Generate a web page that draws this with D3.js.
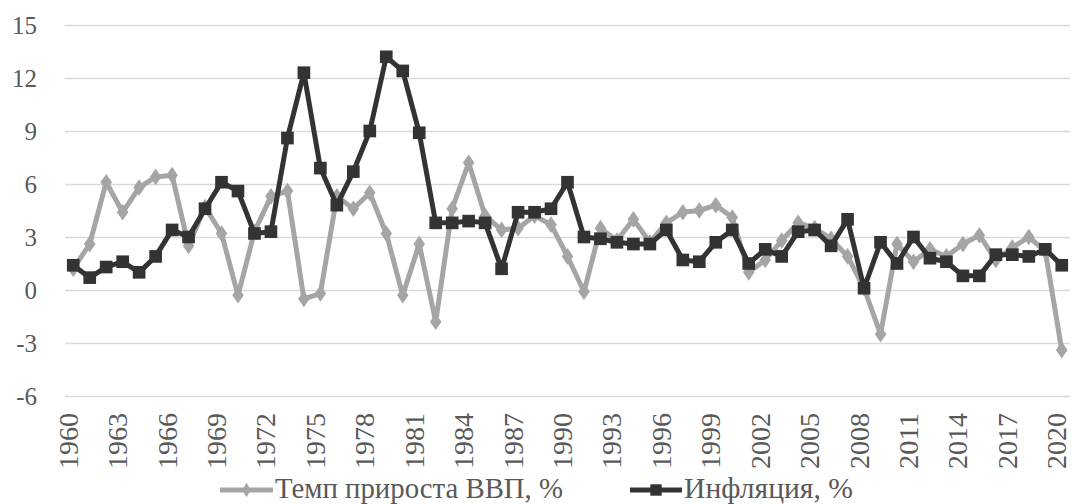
<!DOCTYPE html>
<html>
<head>
<meta charset="utf-8">
<script src="https://cdn.jsdelivr.net/npm/d3@7"></script>
</head>
<body style="margin:0">
<script>
var years = d3.range(1960, 2021);

// Темп прироста ВВП, %
var gdp = [1.2, 2.6, 6.1, 4.4, 5.8, 6.4, 6.5, 2.5, 4.7, 3.2,
           -0.3, 3.3, 5.3, 5.6, -0.5, -0.2, 5.3, 4.6, 5.5, 3.2,
           -0.3, 2.6, -1.8, 4.6, 7.2, 4.2, 3.4, 3.5, 4.2, 3.7,
           1.9, -0.1, 3.5, 2.8, 4.0, 2.7, 3.8, 4.4, 4.5, 4.8,
           4.1, 1.0, 1.7, 2.8, 3.8, 3.5, 2.9, 1.9, 0.1, -2.5,
           2.6, 1.6, 2.3, 1.9, 2.6, 3.1, 1.7, 2.4, 3.0, 2.2,
           -3.4];

// Инфляция, %
var infl = [1.4, 0.7, 1.3, 1.6, 1.0, 1.9, 3.4, 3.0, 4.6, 6.1,
            5.6, 3.2, 3.3, 8.6, 12.3, 6.9, 4.8, 6.7, 9.0, 13.2,
            12.4, 8.9, 3.8, 3.8, 3.9, 3.8, 1.2, 4.4, 4.4, 4.6,
            6.1, 3.0, 2.9, 2.7, 2.6, 2.6, 3.4, 1.7, 1.6, 2.7,
            3.4, 1.5, 2.3, 1.9, 3.3, 3.4, 2.5, 4.0, 0.1, 2.7,
            1.5, 3.0, 1.8, 1.6, 0.8, 0.8, 2.0, 2.0, 1.9, 2.3,
            1.4];

var yTicks = [-6, -3, 0, 3, 6, 9, 12, 15];
var xTicks = years.filter(function(d){ return (d - 1960) % 3 === 0; });

var legendItems = ['Темп прироста ВВП, %', 'Инфляция, %'];

(function(){
var W = 1072, H = 504;
var pLeft = 65, pRight = 1070, pTop = 25, pBottom = 396;
var serif = '"Liberation Serif", Tinos, "Times New Roman", "Nimbus Roman", FreeSerif, serif';
var txtColor = '#595959';

var svg = d3.select('body')
            .append('svg')
            .attr('width', W)
            .attr('height', H);

var x = d3.scaleBand().domain(years).range([pLeft, pRight]);
var y = d3.scaleLinear().domain([-6, 15]).range([pBottom, pTop]);
function cx(d){ return x(d) + x.bandwidth() / 2; }

// gridlines
var grid = svg.append('g')
  .attr('transform', 'translate(' + pLeft + ',0)')
  .call(d3.axisLeft(y).tickValues(yTicks).tickFormat('').tickSize(-(pRight - pLeft)));
grid.select('.domain').remove();
grid.selectAll('text').remove();
grid.selectAll('line').attr('stroke', '#d9d9d9').attr('stroke-width', 1.6);

// y labels
svg.selectAll('text.ylab')
  .data(yTicks)
  .enter()
  .append('text')
  .attr('class', 'ylab')
  .attr('x', pLeft - 28)
  .attr('y', function(d){ return y(d); })
  .attr('dy', '0.34em')
  .attr('text-anchor', 'end')
  .attr('fill', txtColor)
  .style('font-family', serif)
  .style('font-size', '25px')
  .text(function(d){ return String(d); });

// x labels
svg.selectAll('text.xlab')
  .data(xTicks)
  .enter()
  .append('text')
  .attr('class', 'xlab')
  .attr('transform', function(d){ return 'translate(' + (cx(d) - 5) + ',' + (pBottom + 17) + ') rotate(-90)'; })
  .attr('dy', '0.35em')
  .attr('text-anchor', 'end')
  .attr('fill', txtColor)
  .attr('textLength', 56)
  .attr('lengthAdjust', 'spacingAndGlyphs')
  .style('font-family', serif)
  .style('font-size', '27px')
  .text(function(d){ return String(d); });

var gdpColor = '#a5a5a5', inflColor = '#333333';

function drawSeries(vals, color, shape, size){
  var line = d3.line()
    .x(function(d, i){ return cx(years[i]); })
    .y(function(d){ return y(d); });
  svg.append('path')
    .datum(vals)
    .attr('d', line)
    .attr('fill', 'none')
    .attr('stroke', color)
    .attr('stroke-width', 5)
    .attr('stroke-linejoin', 'round');
  svg.append('g').selectAll('path')
    .data(vals)
    .enter()
    .append('path')
    .attr('d', d3.symbol().type(shape).size(size))
    .attr('transform', function(d, i){
      var r = shape === d3.symbolDiamond ? ' scale(1.2,1)' : '';
      return 'translate(' + cx(years[i]) + ',' + y(d) + ')' + r;
    })
    .attr('fill', color);
}

drawSeries(gdp, gdpColor, d3.symbolDiamond, 80);
drawSeries(infl, inflColor, d3.symbolSquare, 160);

// legend
var legPos = [{x0: 220, x1: 273, w: 288}, {x0: 630, x1: 682, w: 169}];
var legColor = [gdpColor, inflColor];
var legShape = [d3.symbolDiamond, d3.symbolSquare];
var legSize = [60, 130];
legendItems.forEach(function(name, i){
  svg.append('line')
    .attr('x1', legPos[i].x0).attr('x2', legPos[i].x1)
    .attr('y1', 490).attr('y2', 490)
    .attr('stroke', legColor[i])
    .attr('stroke-width', 5);
  svg.append('path')
    .attr('d', d3.symbol().type(legShape[i]).size(legSize[i]))
    .attr('transform', 'translate(' + (legPos[i].x0 + legPos[i].x1) / 2 + ',490)')
    .attr('fill', legColor[i]);
});
svg.selectAll('text.leg')
  .data(legendItems)
  .enter()
  .append('text')
  .attr('class', 'leg')
  .attr('x', function(d, i){ return legPos[i].x1 + 2; })
  .attr('y', 498)
  .attr('fill', txtColor)
  .attr('textLength', function(d, i){ return legPos[i].w; })
  .attr('lengthAdjust', 'spacingAndGlyphs')
  .style('font-family', serif)
  .style('font-size', '30px')
  .text(function(d){ return d; });
})();
</script>
</body>
</html>
